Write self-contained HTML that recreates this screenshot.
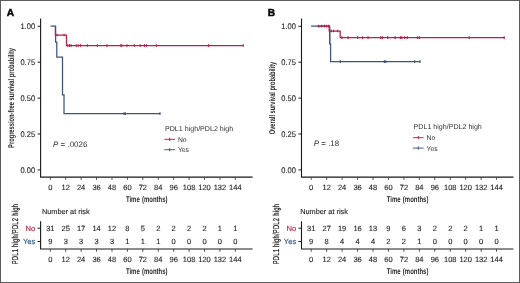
<!DOCTYPE html>
<html><head><meta charset="utf-8"><title>Kaplan-Meier curves</title>
<style>
html,body{margin:0;padding:0;background:#fff;}
body{width:520px;height:283px;overflow:hidden;}
.frame{position:absolute;left:0;top:0;width:518px;height:281px;border:1px solid #5c5c5c;background:#fff;}
svg .t{fill:#1f1f1f;stroke:#1f1f1f;stroke-width:0.12px;}
svg .t3{fill:#222;stroke:#222;stroke-width:0.25px;}
svg .t2{fill:#333;}
svg{position:absolute;left:0;top:0;font-family:"Liberation Sans", sans-serif;will-change:transform;text-rendering:geometricPrecision;}
</style></head>
<body>
<div class="frame"></div>
<svg width="520" height="283" viewBox="0 0 520 283">
<text x="6.8" y="15.6" font-size="10.2" font-weight="bold" fill="#000" stroke="#000" stroke-width="0.45">A</text>
<path d="M40.6 18.6 V177.1 H252.6" fill="none" stroke="#1a1a1a" stroke-width="1.1"/>
<line x1="37.6" y1="26.3" x2="40.6" y2="26.3" stroke="#1a1a1a" stroke-width="1"/>
<text transform="translate(35.10 29.20) scale(0.93 1)" font-size="8.1" text-anchor="end" class="t">1.00</text>
<line x1="37.6" y1="62.2" x2="40.6" y2="62.2" stroke="#1a1a1a" stroke-width="1"/>
<text transform="translate(35.10 65.10) scale(0.93 1)" font-size="8.1" text-anchor="end" class="t">0.75</text>
<line x1="37.6" y1="98.1" x2="40.6" y2="98.1" stroke="#1a1a1a" stroke-width="1"/>
<text transform="translate(35.10 101.00) scale(0.93 1)" font-size="8.1" text-anchor="end" class="t">0.50</text>
<line x1="37.6" y1="134.0" x2="40.6" y2="134.0" stroke="#1a1a1a" stroke-width="1"/>
<text transform="translate(35.10 136.90) scale(0.93 1)" font-size="8.1" text-anchor="end" class="t">0.25</text>
<line x1="37.6" y1="169.9" x2="40.6" y2="169.9" stroke="#1a1a1a" stroke-width="1"/>
<text transform="translate(35.10 172.80) scale(0.93 1)" font-size="8.1" text-anchor="end" class="t">0.00</text>
<line x1="50.30" y1="177.1" x2="50.30" y2="179.9" stroke="#333" stroke-width="0.85"/>
<text x="50.30" y="189.7" font-size="7.5" text-anchor="middle" class="t">0</text>
<line x1="65.72" y1="177.1" x2="65.72" y2="179.9" stroke="#333" stroke-width="0.85"/>
<text x="65.72" y="189.7" font-size="7.5" text-anchor="middle" class="t">12</text>
<line x1="81.14" y1="177.1" x2="81.14" y2="179.9" stroke="#333" stroke-width="0.85"/>
<text x="81.14" y="189.7" font-size="7.5" text-anchor="middle" class="t">24</text>
<line x1="96.56" y1="177.1" x2="96.56" y2="179.9" stroke="#333" stroke-width="0.85"/>
<text x="96.56" y="189.7" font-size="7.5" text-anchor="middle" class="t">36</text>
<line x1="111.98" y1="177.1" x2="111.98" y2="179.9" stroke="#333" stroke-width="0.85"/>
<text x="111.98" y="189.7" font-size="7.5" text-anchor="middle" class="t">48</text>
<line x1="127.40" y1="177.1" x2="127.40" y2="179.9" stroke="#333" stroke-width="0.85"/>
<text x="127.40" y="189.7" font-size="7.5" text-anchor="middle" class="t">60</text>
<line x1="142.82" y1="177.1" x2="142.82" y2="179.9" stroke="#333" stroke-width="0.85"/>
<text x="142.82" y="189.7" font-size="7.5" text-anchor="middle" class="t">72</text>
<line x1="158.24" y1="177.1" x2="158.24" y2="179.9" stroke="#333" stroke-width="0.85"/>
<text x="158.24" y="189.7" font-size="7.5" text-anchor="middle" class="t">84</text>
<line x1="173.66" y1="177.1" x2="173.66" y2="179.9" stroke="#333" stroke-width="0.85"/>
<text x="173.66" y="189.7" font-size="7.5" text-anchor="middle" class="t">96</text>
<line x1="189.08" y1="177.1" x2="189.08" y2="179.9" stroke="#333" stroke-width="0.85"/>
<text x="189.08" y="189.7" font-size="7.5" text-anchor="middle" class="t">108</text>
<line x1="204.50" y1="177.1" x2="204.50" y2="179.9" stroke="#333" stroke-width="0.85"/>
<text x="204.50" y="189.7" font-size="7.5" text-anchor="middle" class="t">120</text>
<line x1="219.92" y1="177.1" x2="219.92" y2="179.9" stroke="#333" stroke-width="0.85"/>
<text x="219.92" y="189.7" font-size="7.5" text-anchor="middle" class="t">132</text>
<line x1="235.34" y1="177.1" x2="235.34" y2="179.9" stroke="#333" stroke-width="0.85"/>
<text x="235.34" y="189.7" font-size="7.5" text-anchor="middle" class="t">144</text>
<text transform="translate(146.7 201.8) scale(0.72 1)" font-size="8.3" font-weight="bold" word-spacing="0.8" text-anchor="middle" fill="#2a2a2a">Time (months)</text>
<text transform="translate(14.4 97.95) rotate(-90) scale(0.69 1)" font-size="8.3" font-weight="bold" text-anchor="middle" fill="#262626">Progression-free survival probability</text>
<path d="M55.4 26.2 V35 H66.5 V45.5 H243.2" fill="none" stroke="#b8204c" stroke-width="1.25"/>
<line x1="57" y1="33.65" x2="57" y2="36.35" stroke="#b8204c" stroke-width="1.2"/>
<line x1="64.1" y1="33.65" x2="64.1" y2="36.35" stroke="#b8204c" stroke-width="1.2"/>
<line x1="67.7" y1="44.15" x2="67.7" y2="46.85" stroke="#b8204c" stroke-width="1.2"/>
<line x1="69.5" y1="44.15" x2="69.5" y2="46.85" stroke="#b8204c" stroke-width="1.2"/>
<line x1="71.1" y1="44.15" x2="71.1" y2="46.85" stroke="#b8204c" stroke-width="1.2"/>
<line x1="76.2" y1="44.15" x2="76.2" y2="46.85" stroke="#b8204c" stroke-width="1.2"/>
<line x1="78.2" y1="44.15" x2="78.2" y2="46.85" stroke="#b8204c" stroke-width="1.2"/>
<line x1="80.5" y1="44.15" x2="80.5" y2="46.85" stroke="#b8204c" stroke-width="1.2"/>
<line x1="87.4" y1="44.15" x2="87.4" y2="46.85" stroke="#b8204c" stroke-width="1.2"/>
<line x1="97.4" y1="44.15" x2="97.4" y2="46.85" stroke="#b8204c" stroke-width="1.2"/>
<line x1="106.9" y1="44.15" x2="106.9" y2="46.85" stroke="#b8204c" stroke-width="1.2"/>
<line x1="120.8" y1="44.15" x2="120.8" y2="46.85" stroke="#b8204c" stroke-width="1.2"/>
<line x1="121.8" y1="44.15" x2="121.8" y2="46.85" stroke="#b8204c" stroke-width="1.2"/>
<line x1="126.9" y1="44.15" x2="126.9" y2="46.85" stroke="#b8204c" stroke-width="1.2"/>
<line x1="134.4" y1="44.15" x2="134.4" y2="46.85" stroke="#b8204c" stroke-width="1.2"/>
<line x1="140.2" y1="44.15" x2="140.2" y2="46.85" stroke="#b8204c" stroke-width="1.2"/>
<line x1="144.5" y1="44.15" x2="144.5" y2="46.85" stroke="#b8204c" stroke-width="1.2"/>
<line x1="146.4" y1="44.15" x2="146.4" y2="46.85" stroke="#b8204c" stroke-width="1.2"/>
<line x1="156.4" y1="44.15" x2="156.4" y2="46.85" stroke="#b8204c" stroke-width="1.2"/>
<line x1="208.5" y1="44.15" x2="208.5" y2="46.85" stroke="#b8204c" stroke-width="1.2"/>
<line x1="243.2" y1="44.15" x2="243.2" y2="46.85" stroke="#b8204c" stroke-width="1.2"/>
<path d="M50.5 26.2 H55.6 V42 H56.8 V57 H62.5 V94.8 H64 V113.7 H160" fill="none" stroke="#3b5677" stroke-width="1.25"/>
<line x1="124" y1="112.35" x2="124" y2="115.05" stroke="#3b5677" stroke-width="1.2"/>
<line x1="125.3" y1="112.35" x2="125.3" y2="115.05" stroke="#3b5677" stroke-width="1.2"/>
<line x1="160" y1="112.35" x2="160" y2="115.05" stroke="#3b5677" stroke-width="1.2"/>
<text x="53.1" y="147.0" font-size="7.95" class="t2"><tspan font-style="italic">P</tspan> = .0026</text>
<text x="165.0" y="130.5" font-size="7.1" class="t2">PDL1 high/PDL2 high</text>
<line x1="164.3" y1="139.3" x2="175.0" y2="139.3" stroke="#b8204c" stroke-width="0.95"/>
<line x1="169.7" y1="137.7" x2="169.7" y2="140.9" stroke="#b8204c" stroke-width="1"/>
<text x="177.9" y="141.7" font-size="6.8" class="t2">No</text>
<line x1="164.3" y1="149.7" x2="175.0" y2="149.7" stroke="#3b5677" stroke-width="0.95"/>
<line x1="169.7" y1="148.1" x2="169.7" y2="151.3" stroke="#3b5677" stroke-width="1"/>
<text x="177.9" y="152.1" font-size="6.8" class="t2">Yes</text>
<text x="41.9" y="214" font-size="7.35" class="t">Number at risk</text>
<path d="M40.6 221.2 V249 H252.6" fill="none" stroke="#1a1a1a" stroke-width="1.1"/>
<line x1="37.6" y1="228.2" x2="40.6" y2="228.2" stroke="#1a1a1a" stroke-width="1"/>
<text x="35.3" y="230.85" font-size="7.6" text-anchor="end" fill="#b8203f" stroke="#b8203f" stroke-width="0.15">No</text>
<text x="50.30" y="230.9" font-size="7.5" text-anchor="middle" class="t">31</text>
<text x="65.72" y="230.9" font-size="7.5" text-anchor="middle" class="t">25</text>
<text x="81.14" y="230.9" font-size="7.5" text-anchor="middle" class="t">17</text>
<text x="96.56" y="230.9" font-size="7.5" text-anchor="middle" class="t">14</text>
<text x="111.98" y="230.9" font-size="7.5" text-anchor="middle" class="t">12</text>
<text x="127.40" y="230.9" font-size="7.5" text-anchor="middle" class="t">8</text>
<text x="142.82" y="230.9" font-size="7.5" text-anchor="middle" class="t">5</text>
<text x="158.24" y="230.9" font-size="7.5" text-anchor="middle" class="t">2</text>
<text x="173.66" y="230.9" font-size="7.5" text-anchor="middle" class="t">2</text>
<text x="189.08" y="230.9" font-size="7.5" text-anchor="middle" class="t">2</text>
<text x="204.50" y="230.9" font-size="7.5" text-anchor="middle" class="t">2</text>
<text x="219.92" y="230.9" font-size="7.5" text-anchor="middle" class="t">1</text>
<text x="235.34" y="230.9" font-size="7.5" text-anchor="middle" class="t">1</text>
<line x1="37.6" y1="241.5" x2="40.6" y2="241.5" stroke="#1a1a1a" stroke-width="1"/>
<text x="35.3" y="244.15" font-size="7.6" text-anchor="end" fill="#2f5d8c" stroke="#2f5d8c" stroke-width="0.15">Yes</text>
<text x="50.30" y="244.2" font-size="7.5" text-anchor="middle" class="t">9</text>
<text x="65.72" y="244.2" font-size="7.5" text-anchor="middle" class="t">3</text>
<text x="81.14" y="244.2" font-size="7.5" text-anchor="middle" class="t">3</text>
<text x="96.56" y="244.2" font-size="7.5" text-anchor="middle" class="t">3</text>
<text x="111.98" y="244.2" font-size="7.5" text-anchor="middle" class="t">3</text>
<text x="127.40" y="244.2" font-size="7.5" text-anchor="middle" class="t">1</text>
<text x="142.82" y="244.2" font-size="7.5" text-anchor="middle" class="t">1</text>
<text x="158.24" y="244.2" font-size="7.5" text-anchor="middle" class="t">1</text>
<text x="173.66" y="244.2" font-size="7.5" text-anchor="middle" class="t">0</text>
<text x="189.08" y="244.2" font-size="7.5" text-anchor="middle" class="t">0</text>
<text x="204.50" y="244.2" font-size="7.5" text-anchor="middle" class="t">0</text>
<text x="219.92" y="244.2" font-size="7.5" text-anchor="middle" class="t">0</text>
<text x="235.34" y="244.2" font-size="7.5" text-anchor="middle" class="t">0</text>
<line x1="50.30" y1="249" x2="50.30" y2="251.8" stroke="#333" stroke-width="0.85"/>
<text x="50.30" y="262.1" font-size="7.5" text-anchor="middle" class="t">0</text>
<line x1="65.72" y1="249" x2="65.72" y2="251.8" stroke="#333" stroke-width="0.85"/>
<text x="65.72" y="262.1" font-size="7.5" text-anchor="middle" class="t">12</text>
<line x1="81.14" y1="249" x2="81.14" y2="251.8" stroke="#333" stroke-width="0.85"/>
<text x="81.14" y="262.1" font-size="7.5" text-anchor="middle" class="t">24</text>
<line x1="96.56" y1="249" x2="96.56" y2="251.8" stroke="#333" stroke-width="0.85"/>
<text x="96.56" y="262.1" font-size="7.5" text-anchor="middle" class="t">36</text>
<line x1="111.98" y1="249" x2="111.98" y2="251.8" stroke="#333" stroke-width="0.85"/>
<text x="111.98" y="262.1" font-size="7.5" text-anchor="middle" class="t">48</text>
<line x1="127.40" y1="249" x2="127.40" y2="251.8" stroke="#333" stroke-width="0.85"/>
<text x="127.40" y="262.1" font-size="7.5" text-anchor="middle" class="t">60</text>
<line x1="142.82" y1="249" x2="142.82" y2="251.8" stroke="#333" stroke-width="0.85"/>
<text x="142.82" y="262.1" font-size="7.5" text-anchor="middle" class="t">72</text>
<line x1="158.24" y1="249" x2="158.24" y2="251.8" stroke="#333" stroke-width="0.85"/>
<text x="158.24" y="262.1" font-size="7.5" text-anchor="middle" class="t">84</text>
<line x1="173.66" y1="249" x2="173.66" y2="251.8" stroke="#333" stroke-width="0.85"/>
<text x="173.66" y="262.1" font-size="7.5" text-anchor="middle" class="t">96</text>
<line x1="189.08" y1="249" x2="189.08" y2="251.8" stroke="#333" stroke-width="0.85"/>
<text x="189.08" y="262.1" font-size="7.5" text-anchor="middle" class="t">108</text>
<line x1="204.50" y1="249" x2="204.50" y2="251.8" stroke="#333" stroke-width="0.85"/>
<text x="204.50" y="262.1" font-size="7.5" text-anchor="middle" class="t">120</text>
<line x1="219.92" y1="249" x2="219.92" y2="251.8" stroke="#333" stroke-width="0.85"/>
<text x="219.92" y="262.1" font-size="7.5" text-anchor="middle" class="t">132</text>
<line x1="235.34" y1="249" x2="235.34" y2="251.8" stroke="#333" stroke-width="0.85"/>
<text x="235.34" y="262.1" font-size="7.5" text-anchor="middle" class="t">144</text>
<text transform="translate(146.7 273.8) scale(0.72 1)" font-size="8.3" font-weight="bold" word-spacing="0.8" text-anchor="middle" fill="#2a2a2a">Time (months)</text>
<text transform="translate(17.7 234.1) rotate(-90) scale(0.67 1)" font-size="8.6" letter-spacing="0.4" text-anchor="middle" class="t3">PDL1 high/PDL2 high</text>
<text x="267.7" y="15.6" font-size="10.2" font-weight="bold" fill="#000" stroke="#000" stroke-width="0.45">B</text>
<path d="M301.5 18.6 V177.1 H513.5" fill="none" stroke="#1a1a1a" stroke-width="1.1"/>
<line x1="298.5" y1="26.3" x2="301.5" y2="26.3" stroke="#1a1a1a" stroke-width="1"/>
<text transform="translate(296.00 29.20) scale(0.93 1)" font-size="8.1" text-anchor="end" class="t">1.00</text>
<line x1="298.5" y1="62.2" x2="301.5" y2="62.2" stroke="#1a1a1a" stroke-width="1"/>
<text transform="translate(296.00 65.10) scale(0.93 1)" font-size="8.1" text-anchor="end" class="t">0.75</text>
<line x1="298.5" y1="98.1" x2="301.5" y2="98.1" stroke="#1a1a1a" stroke-width="1"/>
<text transform="translate(296.00 101.00) scale(0.93 1)" font-size="8.1" text-anchor="end" class="t">0.50</text>
<line x1="298.5" y1="134.0" x2="301.5" y2="134.0" stroke="#1a1a1a" stroke-width="1"/>
<text transform="translate(296.00 136.90) scale(0.93 1)" font-size="8.1" text-anchor="end" class="t">0.25</text>
<line x1="298.5" y1="169.9" x2="301.5" y2="169.9" stroke="#1a1a1a" stroke-width="1"/>
<text transform="translate(296.00 172.80) scale(0.93 1)" font-size="8.1" text-anchor="end" class="t">0.00</text>
<line x1="311.20" y1="177.1" x2="311.20" y2="179.9" stroke="#333" stroke-width="0.85"/>
<text x="311.20" y="189.7" font-size="7.5" text-anchor="middle" class="t">0</text>
<line x1="326.65" y1="177.1" x2="326.65" y2="179.9" stroke="#333" stroke-width="0.85"/>
<text x="326.65" y="189.7" font-size="7.5" text-anchor="middle" class="t">12</text>
<line x1="342.10" y1="177.1" x2="342.10" y2="179.9" stroke="#333" stroke-width="0.85"/>
<text x="342.10" y="189.7" font-size="7.5" text-anchor="middle" class="t">24</text>
<line x1="357.55" y1="177.1" x2="357.55" y2="179.9" stroke="#333" stroke-width="0.85"/>
<text x="357.55" y="189.7" font-size="7.5" text-anchor="middle" class="t">36</text>
<line x1="373.00" y1="177.1" x2="373.00" y2="179.9" stroke="#333" stroke-width="0.85"/>
<text x="373.00" y="189.7" font-size="7.5" text-anchor="middle" class="t">48</text>
<line x1="388.45" y1="177.1" x2="388.45" y2="179.9" stroke="#333" stroke-width="0.85"/>
<text x="388.45" y="189.7" font-size="7.5" text-anchor="middle" class="t">60</text>
<line x1="403.90" y1="177.1" x2="403.90" y2="179.9" stroke="#333" stroke-width="0.85"/>
<text x="403.90" y="189.7" font-size="7.5" text-anchor="middle" class="t">72</text>
<line x1="419.35" y1="177.1" x2="419.35" y2="179.9" stroke="#333" stroke-width="0.85"/>
<text x="419.35" y="189.7" font-size="7.5" text-anchor="middle" class="t">84</text>
<line x1="434.80" y1="177.1" x2="434.80" y2="179.9" stroke="#333" stroke-width="0.85"/>
<text x="434.80" y="189.7" font-size="7.5" text-anchor="middle" class="t">96</text>
<line x1="450.25" y1="177.1" x2="450.25" y2="179.9" stroke="#333" stroke-width="0.85"/>
<text x="450.25" y="189.7" font-size="7.5" text-anchor="middle" class="t">108</text>
<line x1="465.70" y1="177.1" x2="465.70" y2="179.9" stroke="#333" stroke-width="0.85"/>
<text x="465.70" y="189.7" font-size="7.5" text-anchor="middle" class="t">120</text>
<line x1="481.15" y1="177.1" x2="481.15" y2="179.9" stroke="#333" stroke-width="0.85"/>
<text x="481.15" y="189.7" font-size="7.5" text-anchor="middle" class="t">132</text>
<line x1="496.60" y1="177.1" x2="496.60" y2="179.9" stroke="#333" stroke-width="0.85"/>
<text x="496.60" y="189.7" font-size="7.5" text-anchor="middle" class="t">144</text>
<text transform="translate(407.6 201.8) scale(0.72 1)" font-size="8.3" font-weight="bold" word-spacing="0.8" text-anchor="middle" fill="#2a2a2a">Time (months)</text>
<text transform="translate(275.3 97.95) rotate(-90) scale(0.68 1)" font-size="8.3" font-weight="bold" text-anchor="middle" fill="#262626">Overall survival probability</text>
<path d="M311.1 26.1 H329.7 V43.8 H330.6 V61.6 H420" fill="none" stroke="#3b5677" stroke-width="1.25"/>
<line x1="340.3" y1="60.25" x2="340.3" y2="62.95" stroke="#3b5677" stroke-width="1.2"/>
<line x1="384.4" y1="60.25" x2="384.4" y2="62.95" stroke="#3b5677" stroke-width="1.2"/>
<line x1="385.8" y1="60.25" x2="385.8" y2="62.95" stroke="#3b5677" stroke-width="1.2"/>
<line x1="414.6" y1="60.25" x2="414.6" y2="62.95" stroke="#3b5677" stroke-width="1.2"/>
<line x1="420" y1="60.25" x2="420" y2="62.95" stroke="#3b5677" stroke-width="1.2"/>
<path d="M317.5 26.1 H329.2 V31 H340.2 V37.7 H504.2" fill="none" stroke="#b8204c" stroke-width="1.25"/>
<line x1="318.6" y1="24.75" x2="318.6" y2="27.45" stroke="#b8204c" stroke-width="1.2"/>
<line x1="324.3" y1="24.75" x2="324.3" y2="27.45" stroke="#b8204c" stroke-width="1.2"/>
<line x1="326.5" y1="24.75" x2="326.5" y2="27.45" stroke="#b8204c" stroke-width="1.2"/>
<line x1="328.5" y1="24.75" x2="328.5" y2="27.45" stroke="#b8204c" stroke-width="1.2"/>
<line x1="321.6" y1="24.75" x2="321.6" y2="27.45" stroke="#3b5677" stroke-width="1.2"/>
<line x1="331.4" y1="29.65" x2="331.4" y2="32.35" stroke="#b8204c" stroke-width="1.2"/>
<line x1="333.6" y1="29.65" x2="333.6" y2="32.35" stroke="#b8204c" stroke-width="1.2"/>
<line x1="337.6" y1="29.65" x2="337.6" y2="32.35" stroke="#b8204c" stroke-width="1.2"/>
<line x1="341.8" y1="36.35" x2="341.8" y2="39.05" stroke="#b8204c" stroke-width="1.2"/>
<line x1="348.1" y1="36.35" x2="348.1" y2="39.05" stroke="#b8204c" stroke-width="1.2"/>
<line x1="357.7" y1="36.35" x2="357.7" y2="39.05" stroke="#b8204c" stroke-width="1.2"/>
<line x1="362.5" y1="36.35" x2="362.5" y2="39.05" stroke="#b8204c" stroke-width="1.2"/>
<line x1="368" y1="36.35" x2="368" y2="39.05" stroke="#b8204c" stroke-width="1.2"/>
<line x1="380.8" y1="36.35" x2="380.8" y2="39.05" stroke="#b8204c" stroke-width="1.2"/>
<line x1="382.4" y1="36.35" x2="382.4" y2="39.05" stroke="#b8204c" stroke-width="1.2"/>
<line x1="387.7" y1="36.35" x2="387.7" y2="39.05" stroke="#b8204c" stroke-width="1.2"/>
<line x1="395.1" y1="36.35" x2="395.1" y2="39.05" stroke="#b8204c" stroke-width="1.2"/>
<line x1="400.4" y1="36.35" x2="400.4" y2="39.05" stroke="#b8204c" stroke-width="1.2"/>
<line x1="401.8" y1="36.35" x2="401.8" y2="39.05" stroke="#b8204c" stroke-width="1.2"/>
<line x1="404.7" y1="36.35" x2="404.7" y2="39.05" stroke="#b8204c" stroke-width="1.2"/>
<line x1="407.3" y1="36.35" x2="407.3" y2="39.05" stroke="#b8204c" stroke-width="1.2"/>
<line x1="417.5" y1="36.35" x2="417.5" y2="39.05" stroke="#b8204c" stroke-width="1.2"/>
<line x1="419.4" y1="36.35" x2="419.4" y2="39.05" stroke="#b8204c" stroke-width="1.2"/>
<line x1="469.2" y1="36.35" x2="469.2" y2="39.05" stroke="#b8204c" stroke-width="1.2"/>
<line x1="504.2" y1="36.35" x2="504.2" y2="39.05" stroke="#b8204c" stroke-width="1.2"/>
<path d="M329.7 29 V43.8" fill="none" stroke="#3b5677" stroke-width="1.25"/>
<text x="313.8" y="145.7" font-size="7.95" class="t2"><tspan font-style="italic">P</tspan> = .18</text>
<text x="413.6" y="128.9" font-size="7.1" class="t2">PDL1 high/PDL2 high</text>
<line x1="412.9" y1="137.7" x2="423.6" y2="137.7" stroke="#b8204c" stroke-width="0.95"/>
<line x1="418.3" y1="136.1" x2="418.3" y2="139.3" stroke="#b8204c" stroke-width="1"/>
<text x="426.5" y="140.1" font-size="6.8" class="t2">No</text>
<line x1="412.9" y1="148.1" x2="423.6" y2="148.1" stroke="#3b5677" stroke-width="0.95"/>
<line x1="418.3" y1="146.5" x2="418.3" y2="149.7" stroke="#3b5677" stroke-width="1"/>
<text x="426.5" y="150.5" font-size="6.8" class="t2">Yes</text>
<text x="300.2" y="214" font-size="7.35" class="t">Number at risk</text>
<path d="M301.5 221.2 V249 H513.5" fill="none" stroke="#1a1a1a" stroke-width="1.1"/>
<line x1="298.5" y1="228.2" x2="301.5" y2="228.2" stroke="#1a1a1a" stroke-width="1"/>
<text x="296.2" y="230.85" font-size="7.6" text-anchor="end" fill="#b8203f" stroke="#b8203f" stroke-width="0.15">No</text>
<text x="311.20" y="230.9" font-size="7.5" text-anchor="middle" class="t">31</text>
<text x="326.65" y="230.9" font-size="7.5" text-anchor="middle" class="t">27</text>
<text x="342.10" y="230.9" font-size="7.5" text-anchor="middle" class="t">19</text>
<text x="357.55" y="230.9" font-size="7.5" text-anchor="middle" class="t">16</text>
<text x="373.00" y="230.9" font-size="7.5" text-anchor="middle" class="t">13</text>
<text x="388.45" y="230.9" font-size="7.5" text-anchor="middle" class="t">9</text>
<text x="403.90" y="230.9" font-size="7.5" text-anchor="middle" class="t">6</text>
<text x="419.35" y="230.9" font-size="7.5" text-anchor="middle" class="t">3</text>
<text x="434.80" y="230.9" font-size="7.5" text-anchor="middle" class="t">2</text>
<text x="450.25" y="230.9" font-size="7.5" text-anchor="middle" class="t">2</text>
<text x="465.70" y="230.9" font-size="7.5" text-anchor="middle" class="t">2</text>
<text x="481.15" y="230.9" font-size="7.5" text-anchor="middle" class="t">1</text>
<text x="496.60" y="230.9" font-size="7.5" text-anchor="middle" class="t">1</text>
<line x1="298.5" y1="241.5" x2="301.5" y2="241.5" stroke="#1a1a1a" stroke-width="1"/>
<text x="296.2" y="244.15" font-size="7.6" text-anchor="end" fill="#2f5d8c" stroke="#2f5d8c" stroke-width="0.15">Yes</text>
<text x="311.20" y="244.2" font-size="7.5" text-anchor="middle" class="t">9</text>
<text x="326.65" y="244.2" font-size="7.5" text-anchor="middle" class="t">8</text>
<text x="342.10" y="244.2" font-size="7.5" text-anchor="middle" class="t">4</text>
<text x="357.55" y="244.2" font-size="7.5" text-anchor="middle" class="t">4</text>
<text x="373.00" y="244.2" font-size="7.5" text-anchor="middle" class="t">4</text>
<text x="388.45" y="244.2" font-size="7.5" text-anchor="middle" class="t">2</text>
<text x="403.90" y="244.2" font-size="7.5" text-anchor="middle" class="t">2</text>
<text x="419.35" y="244.2" font-size="7.5" text-anchor="middle" class="t">1</text>
<text x="434.80" y="244.2" font-size="7.5" text-anchor="middle" class="t">0</text>
<text x="450.25" y="244.2" font-size="7.5" text-anchor="middle" class="t">0</text>
<text x="465.70" y="244.2" font-size="7.5" text-anchor="middle" class="t">0</text>
<text x="481.15" y="244.2" font-size="7.5" text-anchor="middle" class="t">0</text>
<text x="496.60" y="244.2" font-size="7.5" text-anchor="middle" class="t">0</text>
<line x1="311.20" y1="249" x2="311.20" y2="251.8" stroke="#333" stroke-width="0.85"/>
<text x="311.20" y="262.1" font-size="7.5" text-anchor="middle" class="t">0</text>
<line x1="326.65" y1="249" x2="326.65" y2="251.8" stroke="#333" stroke-width="0.85"/>
<text x="326.65" y="262.1" font-size="7.5" text-anchor="middle" class="t">12</text>
<line x1="342.10" y1="249" x2="342.10" y2="251.8" stroke="#333" stroke-width="0.85"/>
<text x="342.10" y="262.1" font-size="7.5" text-anchor="middle" class="t">24</text>
<line x1="357.55" y1="249" x2="357.55" y2="251.8" stroke="#333" stroke-width="0.85"/>
<text x="357.55" y="262.1" font-size="7.5" text-anchor="middle" class="t">36</text>
<line x1="373.00" y1="249" x2="373.00" y2="251.8" stroke="#333" stroke-width="0.85"/>
<text x="373.00" y="262.1" font-size="7.5" text-anchor="middle" class="t">48</text>
<line x1="388.45" y1="249" x2="388.45" y2="251.8" stroke="#333" stroke-width="0.85"/>
<text x="388.45" y="262.1" font-size="7.5" text-anchor="middle" class="t">60</text>
<line x1="403.90" y1="249" x2="403.90" y2="251.8" stroke="#333" stroke-width="0.85"/>
<text x="403.90" y="262.1" font-size="7.5" text-anchor="middle" class="t">72</text>
<line x1="419.35" y1="249" x2="419.35" y2="251.8" stroke="#333" stroke-width="0.85"/>
<text x="419.35" y="262.1" font-size="7.5" text-anchor="middle" class="t">84</text>
<line x1="434.80" y1="249" x2="434.80" y2="251.8" stroke="#333" stroke-width="0.85"/>
<text x="434.80" y="262.1" font-size="7.5" text-anchor="middle" class="t">96</text>
<line x1="450.25" y1="249" x2="450.25" y2="251.8" stroke="#333" stroke-width="0.85"/>
<text x="450.25" y="262.1" font-size="7.5" text-anchor="middle" class="t">108</text>
<line x1="465.70" y1="249" x2="465.70" y2="251.8" stroke="#333" stroke-width="0.85"/>
<text x="465.70" y="262.1" font-size="7.5" text-anchor="middle" class="t">120</text>
<line x1="481.15" y1="249" x2="481.15" y2="251.8" stroke="#333" stroke-width="0.85"/>
<text x="481.15" y="262.1" font-size="7.5" text-anchor="middle" class="t">132</text>
<line x1="496.60" y1="249" x2="496.60" y2="251.8" stroke="#333" stroke-width="0.85"/>
<text x="496.60" y="262.1" font-size="7.5" text-anchor="middle" class="t">144</text>
<text transform="translate(407.6 273.8) scale(0.72 1)" font-size="8.3" font-weight="bold" word-spacing="0.8" text-anchor="middle" fill="#2a2a2a">Time (months)</text>
<text transform="translate(278.6 234.1) rotate(-90) scale(0.67 1)" font-size="8.6" letter-spacing="0.4" text-anchor="middle" class="t3">PDL1 high/PDL2 high</text>
</svg>
</body></html>
